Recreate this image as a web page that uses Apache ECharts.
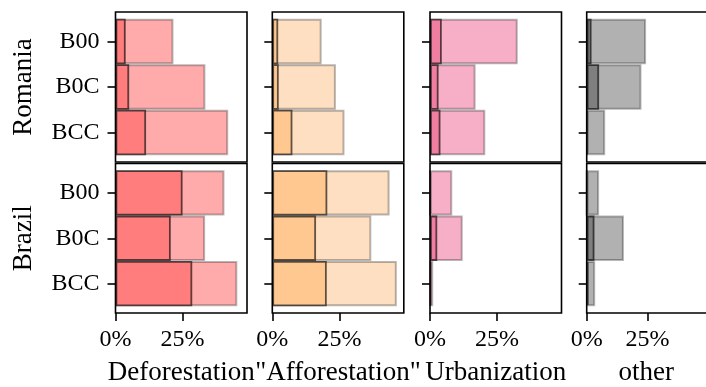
<!DOCTYPE html>
<html>
<head>
<meta charset="utf-8">
<script src="https://cdn.jsdelivr.net/npm/echarts@6/dist/echarts.min.js"></script>
<style>
html,body{margin:0;padding:0;background:#fff;}
#chart{width:706px;height:387px;}
</style>
</head>
<body>
<div id="chart"></div>
<script>
// ---- data ----
const categories = ['B00', 'B0C', 'BCC'];
const regions = ['Romania', 'Brazil'];
const drivers = ['Deforestation', '"Afforestation"', 'Urbanization', 'other'];
const xTicks = [0, 25];

const romaniaDeforestationLight = [21.6, 33.5, 42.0];
const romaniaDeforestationDark  = [3.8, 5.1, 11.4];
const romaniaAfforestationLight = [18.4, 23.7, 26.9];
const romaniaAfforestationDark  = [2.2, 2.4, 7.5];
const romaniaUrbanizationLight  = [32.7, 17.0, 20.6];
const romaniaUrbanizationDark   = [4.4, 3.2, 3.9];
const romaniaOtherLight         = [24.4, 22.5, 7.6];
const romaniaOtherDark          = [2.0, 5.1, 0.4];

const brazilDeforestationLight  = [40.6, 33.4, 45.4];
const brazilDeforestationDark   = [25.0, 20.6, 28.6];
const brazilAfforestationLight  = [43.7, 36.9, 46.4];
const brazilAfforestationDark   = [20.5, 16.3, 20.3];
const brazilUrbanizationLight   = [8.3, 12.2, 1.2];
const brazilUrbanizationDark    = [0, 2.7, 0.3];
const brazilOtherLight          = [5.1, 15.3, 3.5];
const brazilOtherDark           = [0, 3.2, 0.7];

const lightData = [
  [romaniaDeforestationLight, romaniaAfforestationLight, romaniaUrbanizationLight, romaniaOtherLight],
  [brazilDeforestationLight, brazilAfforestationLight, brazilUrbanizationLight, brazilOtherLight]
];
const darkData = [
  [romaniaDeforestationDark, romaniaAfforestationDark, romaniaUrbanizationDark, romaniaOtherDark],
  [brazilDeforestationDark, brazilAfforestationDark, brazilUrbanizationDark, brazilOtherDark]
];

// ---- styles ----
const lightColors = ['#FFABAB', '#FFDFC1', '#F7AEC7', '#B1B1B1'];
const darkColors  = ['#FF7D7D', '#FFC891', '#F07EA1', '#7F7F7F'];
const FONT = '"Liberation Serif", "Times New Roman", serif';

const colLeft = [115.5, 272.3, 430, 586.7];
const colWidth = 131.5;
const rowTop = [12, 163.5];
const rowHeight = [150, 149.5];
const xMax = 49;

const grids = [], xAxes = [], yAxes = [], series = [], graphics = [];

for (let r = 0; r < 2; r++) {
  for (let c = 0; c < 4; c++) {
    const i = r * 4 + c;
    const margin = rowHeight[r] * 0.05 / 1.1;
    grids.push({
      left: colLeft[c], width: colWidth,
      top: rowTop[r] + margin, height: rowHeight[r] - 2 * margin,
      containLabel: false
    });
    const bottom = r === 1;
    xAxes.push({
      type: 'value', gridIndex: i, min: 0, max: xMax,
      offset: margin,
      axisLine: { show: false },
      splitLine: { show: false },
      axisTick: {
        show: bottom, length: 8, inside: false,
        customValues: xTicks,
        lineStyle: { color: '#000', width: 1.6 }
      },
      axisLabel: {
        show: bottom, customValues: xTicks,
        formatter: '{value}%', margin: 15,
        fontFamily: FONT, fontSize: 24, color: '#000'
      },
      name: bottom ? drivers[c] : '',
      nameLocation: 'middle', nameGap: 46,
      nameTextStyle: { fontFamily: FONT, fontSize: 27, color: '#000' }
    });
    yAxes.push({
      type: 'category', gridIndex: i, data: categories, inverse: true,
      axisLine: { show: false },
      splitLine: { show: false },
      axisTick: {
        show: true, alignWithLabel: true, length: 8, inside: false,
        lineStyle: { color: '#000', width: 1.6 }
      },
      axisLabel: {
        show: c === 0, margin: 16,
        fontFamily: FONT, fontSize: 24, color: '#000'
      }
    });
    series.push({
      type: 'bar', xAxisIndex: i, yAxisIndex: i,
      data: lightData[r][c],
      barCategoryGap: '0%', barGap: '-100%',
      itemStyle: { color: lightColors[c], borderColor: 'rgba(0,0,0,0.28)', borderWidth: 2 },
      silent: true, animation: false
    });
    series.push({
      type: 'bar', xAxisIndex: i, yAxisIndex: i,
      data: darkData[r][c],
      barCategoryGap: '0%', barGap: '-100%',
      itemStyle: { color: darkColors[c], borderColor: 'rgba(0,0,0,0.62)', borderWidth: 1.8 },
      silent: true, animation: false
    });
    graphics.push({
      type: 'rect', z: 100, silent: true,
      shape: { x: colLeft[c], y: rowTop[r], width: colWidth, height: rowHeight[r] },
      style: { fill: 'none', stroke: '#000', lineWidth: 1.6 }
    });
  }
  graphics.push({
    type: 'text', z: 100, silent: true,
    x: 24, y: rowTop[r] + rowHeight[r] / 2, rotation: Math.PI / 2,
    style: {
      text: regions[r], font: '27px ' + FONT, fill: '#000',
      align: 'center', verticalAlign: 'middle',
      textAlign: 'center', textVerticalAlign: 'middle'
    }
  });
}

const chart = echarts.init(document.getElementById('chart'), null, { renderer: 'canvas' });
chart.setOption({
  animation: false,
  backgroundColor: '#fff',
  grid: grids,
  xAxis: xAxes,
  yAxis: yAxes,
  series: series,
  graphic: graphics
});
</script>
</body>
</html>
